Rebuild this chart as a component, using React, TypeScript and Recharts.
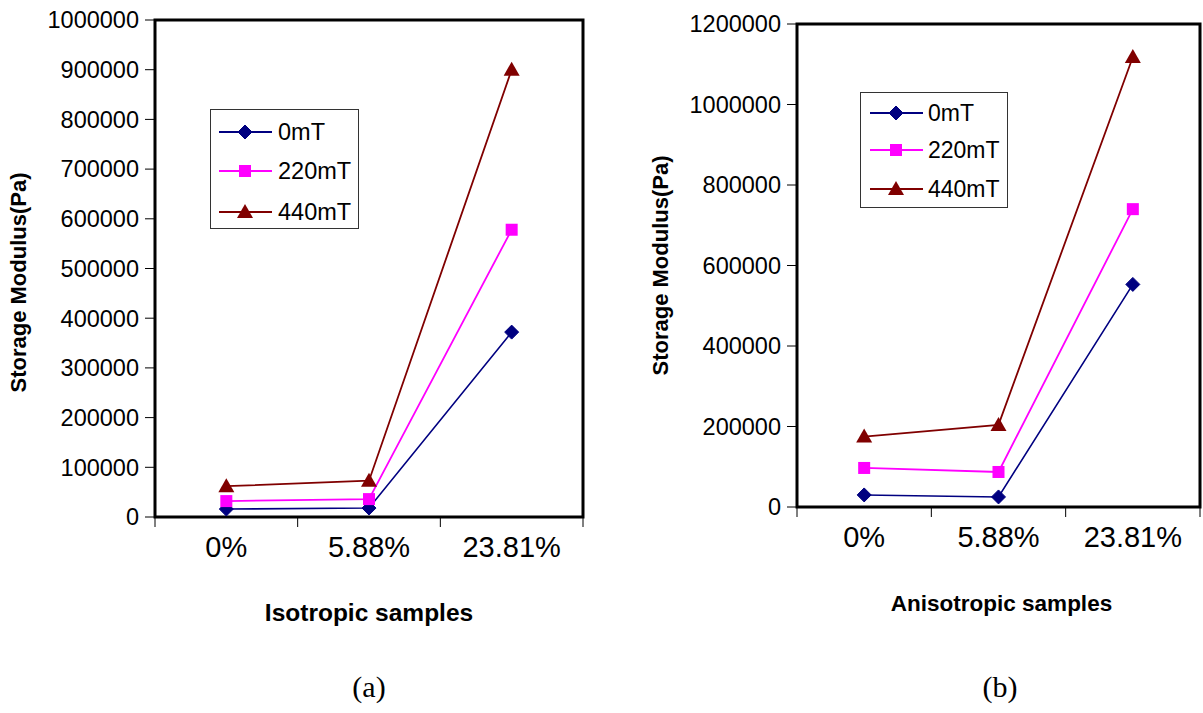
import React from 'react';
import { LineChart, Line, XAxis, YAxis, ReferenceArea } from 'recharts';

const categories = ['0%', '5.88%', '23.81%'];
const seriesNames = ['0mT', '220mT', '440mT'];
const seriesColors = ['#000080', '#FF00FF', '#800000'];

const iso0 = [16000, 18000, 372000];
const iso220 = [32000, 36000, 578000];
const iso440 = [62000, 73000, 900000];

const aniso0 = [30000, 25000, 553000];
const aniso220 = [97000, 87000, 740000];
const aniso440 = [175000, 204000, 1118000];

const isoTicks = [0, 100000, 200000, 300000, 400000, 500000, 600000, 700000, 800000, 900000, 1000000];
const anisoTicks = [0, 200000, 400000, 600000, 800000, 1000000, 1200000];

const FONT = '"Liberation Sans", Arial, sans-serif';

function buildData(s0: number[], s220: number[], s440: number[]) {
  return categories.map((c, i) => ({ x: i + 0.5, name: c, s0: s0[i], s220: s220[i], s440: s440[i] }));
}

function Marker({ kind, cx, cy }: { kind: number; cx: number; cy: number }) {
  if (cx == null || cy == null) return null;
  if (kind === 0) {
    const r = 7;
    return <polygon points={`${cx},${cy - r} ${cx + r},${cy} ${cx},${cy + r} ${cx - r},${cy}`} fill="#000080" stroke="#000080" />;
  }
  if (kind === 1) {
    return <rect x={cx - 6} y={cy - 6} width={12} height={12} fill="#FF00FF" />;
  }
  return <polygon points={`${cx},${cy - 8} ${cx + 8},${cy + 6} ${cx - 8},${cy + 6}`} fill="#800000" />;
}

// legend box drawn as an svg, rows placed by offsets inside the box
function LegendBox({ left, top, width, height, rows, lineX, textX, fontSize }:
  { left: number; top: number; width: number; height: number; rows: number[]; lineX: number; textX: number; fontSize: number }) {
  return (
    <svg style={{ position: 'absolute', left, top }} width={width} height={height}>
      <rect x={0.5} y={0.5} width={width - 1} height={height - 1} fill="#fff" stroke="#333" strokeWidth={1} />
      {seriesNames.map((n, i) => (
        <g key={n}>
          <line x1={lineX} y1={rows[i]} x2={lineX + 53} y2={rows[i]} stroke={seriesColors[i]} strokeWidth={2} />
          <Marker kind={i} cx={lineX + 26} cy={rows[i]} />
          <text x={textX} y={rows[i]} dominantBaseline="central" fontFamily={FONT} fontSize={fontSize} fill="#000">{n}</text>
        </g>
      ))}
    </svg>
  );
}

const makeXTick = () => (props: any) => {
  const { x, y, payload } = props;
  const v = payload.value;
  if (Number.isInteger(v)) {
    return <line x1={x} y1={y} x2={x} y2={y + 10} stroke="#000" strokeWidth={1} />;
  }
  const label = categories[Math.floor(v)];
  return (
    <text x={x} y={y + 40} textAnchor="middle" fontFamily={FONT} fontSize={29} fill="#000">{label}</text>
  );
};

function YTitle({ viewBox, dx, dy }: any) {
  const cx = viewBox.x + dx;
  const cy = viewBox.y + viewBox.height / 2 + dy;
  return (
    <text x={cx} y={cy} transform={`rotate(-90 ${cx} ${cy})`} textAnchor="middle" dominantBaseline="central"
      fontFamily={FONT} fontWeight="bold" fontSize={22} fill="#000">Storage Modulus(Pa)</text>
  );
}

function XTitle({ viewBox, text, dy, size, shift }: any) {
  const cx = viewBox.x + viewBox.width / 2 + shift;
  return (
    <text x={cx} y={viewBox.y + dy} textAnchor="middle" fontFamily={FONT} fontWeight="bold" fontSize={size} fill="#000">{text}</text>
  );
}

function Panel(props: {
  left: number; width: number; top: number; plotBottom: number; yAxisWidth: number; marginRight: number;
  yMax: number; yTicks: number[]; data: any[]; xTitle: string; xTitleSize: number; xTitleShift: number;
  yTitleDx: number; yTitleDy: number;
}) {
  const height = 640;
  return (
    <div style={{ position: 'absolute', left: props.left, top: 0 }}>
      <LineChart width={props.width} height={height} data={props.data}
        margin={{ top: props.top, right: props.marginRight, left: 0, bottom: 0 }}>
        <XAxis dataKey="x" type="number" domain={[0, 3]} ticks={[0, 0.5, 1, 1.5, 2, 2.5, 3]}
          interval={0} axisLine={false} tickLine={false} tickSize={0} tickMargin={0}
          height={height - props.plotBottom} tick={makeXTick()}
          label={<XTitle text={props.xTitle} dy={104} size={props.xTitleSize} shift={props.xTitleShift} />} />
        <YAxis type="number" domain={[0, props.yMax]} ticks={props.yTicks} interval={0}
          width={props.yAxisWidth} axisLine={false} tickSize={10} tickMargin={6}
          tickLine={{ stroke: '#000' }}
          tick={{ fill: '#000', fontSize: 23.5, fontFamily: FONT }}
          label={<YTitle dx={props.yTitleDx} dy={props.yTitleDy} />} />
        <ReferenceArea x1={0} x2={3} y1={0} y2={props.yMax} fill="none" stroke="#000" strokeWidth={3} ifOverflow="visible" />
        <Line type="linear" dataKey="s0" stroke="#000080" strokeWidth={1.6} isAnimationActive={false}
          dot={(p: any) => <Marker key={`a${p.index}`} kind={0} cx={p.cx} cy={p.cy} />} />
        <Line type="linear" dataKey="s220" stroke="#FF00FF" strokeWidth={1.8} isAnimationActive={false}
          dot={(p: any) => <Marker key={`b${p.index}`} kind={1} cx={p.cx} cy={p.cy} />} />
        <Line type="linear" dataKey="s440" stroke="#800000" strokeWidth={1.8} isAnimationActive={false}
          dot={(p: any) => <Marker key={`c${p.index}`} kind={2} cx={p.cx} cy={p.cy} />} />
      </LineChart>
    </div>
  );
}

export default function App() {
  const isoData = buildData(iso0, iso220, iso440);
  const anisoData = buildData(aniso0, aniso220, aniso440);
  return (
    <div style={{ position: 'absolute', left: 0, top: 0, width: 1203, height: 713, background: '#fff', overflow: 'hidden' }}>
      <Panel left={0} width={600} top={20} plotBottom={517} yAxisWidth={155} marginRight={17}
        yMax={1000000} yTicks={isoTicks} data={isoData} xTitle="Isotropic samples" xTitleSize={24.5} xTitleShift={0}
        yTitleDx={18} yTitleDy={14} />
      <Panel left={600} width={603} top={24} plotBottom={507} yAxisWidth={197} marginRight={3}
        yMax={1200000} yTicks={anisoTicks} data={anisoData} xTitle="Anisotropic samples" xTitleSize={22.5} xTitleShift={3}
        yTitleDx={60} yTitleDy={0} />
      <LegendBox left={210} top={109} width={149} height={120} rows={[23, 62, 103]} lineX={9} textX={68} fontSize={23.5} />
      <LegendBox left={860} top={92} width={148} height={116} rows={[21, 58, 97]} lineX={10} textX={68} fontSize={23} />
      <div style={{ position: 'absolute', left: 0, top: 670, width: 738, textAlign: 'center', fontFamily: '"Liberation Serif", "Times New Roman", serif', fontSize: 30 }}>(a)</div>
      <div style={{ position: 'absolute', left: 600, top: 670, width: 800, textAlign: 'center', fontFamily: '"Liberation Serif", "Times New Roman", serif', fontSize: 30 }}>(b)</div>
    </div>
  );
}
